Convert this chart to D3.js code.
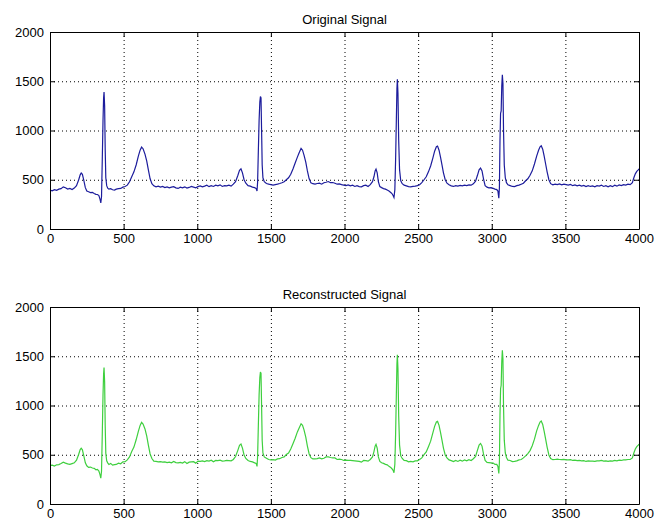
<!DOCTYPE html>
<html>
<head>
<meta charset="utf-8">
<script src="https://cdnjs.cloudflare.com/ajax/libs/d3/7.8.5/d3.min.js"></script>
<style>
  body { margin: 0; background: #fff; }
  text { font-family: Arial, "Liberation Sans", sans-serif; fill: #000; }
</style>
</head>
<body>
<div id="chart"></div>
<script>
// sample index / amplitude pairs
let original = [[0,395],[15,388],[30,400],[45,392],[60,405],[75,410],[90,428],[105,418],[120,405],[135,412],[150,400],[165,415],[180,440],[195,500],[205,550],[212,568],[220,555],[230,490],[240,420],[250,385],[262,378],[275,370],[288,372],[300,360],[312,352],[322,350],[332,340],[340,300],[345,265],[350,330],[355,700],[360,1100],[364,1330],[367,1390],[371,1250],[375,800],[379,520],[385,440],[392,415],[400,405],[412,410],[425,398],[438,395],[450,405],[465,410],[480,412],[495,425],[510,432],[525,445],[540,480],[555,530],[570,580],[585,650],[600,740],[612,800],[622,832],[632,815],[645,760],[657,690],[668,600],[680,510],[692,460],[705,438],[720,428],[735,435],[750,425],[765,432],[780,420],[795,428],[810,418],[825,425],[840,430],[855,418],[870,412],[885,425],[900,418],[915,428],[930,415],[945,422],[960,432],[975,425],[990,418],[1005,430],[1020,438],[1035,428],[1050,435],[1065,445],[1080,430],[1095,440],[1110,432],[1125,445],[1140,438],[1155,448],[1170,432],[1185,440],[1200,438],[1215,445],[1230,435],[1245,455],[1260,480],[1275,540],[1287,595],[1297,610],[1307,570],[1318,500],[1330,465],[1345,440],[1360,435],[1375,425],[1390,420],[1400,410],[1406,385],[1410,480],[1415,800],[1420,1100],[1425,1290],[1429,1345],[1433,1330],[1437,1000],[1441,650],[1446,520],[1455,480],[1470,462],[1485,455],[1500,450],[1515,445],[1530,450],[1545,455],[1560,462],[1575,470],[1590,480],[1605,500],[1620,520],[1635,555],[1650,610],[1665,670],[1680,730],[1692,775],[1705,818],[1715,800],[1725,750],[1737,680],[1748,590],[1760,510],[1772,468],[1785,460],[1800,455],[1815,462],[1830,465],[1845,455],[1860,470],[1875,475],[1890,482],[1905,470],[1920,472],[1935,465],[1950,455],[1965,458],[1980,450],[1995,445],[2010,440],[2025,448],[2040,438],[2055,445],[2070,432],[2085,440],[2100,430],[2115,428],[2130,440],[2145,445],[2160,432],[2175,450],[2190,480],[2200,530],[2208,590],[2214,608],[2222,570],[2230,480],[2240,430],[2252,420],[2265,410],[2278,405],[2290,395],[2302,385],[2314,370],[2322,360],[2330,340],[2336,320],[2342,400],[2347,700],[2352,1100],[2356,1420],[2359,1520],[2363,1380],[2368,900],[2374,600],[2382,490],[2392,460],[2405,445],[2420,438],[2435,430],[2450,428],[2465,432],[2480,435],[2495,440],[2510,450],[2525,470],[2540,500],[2555,530],[2570,580],[2585,640],[2600,720],[2612,790],[2624,835],[2632,842],[2642,800],[2652,730],[2662,650],[2672,570],[2684,500],[2696,465],[2710,450],[2725,438],[2740,432],[2755,440],[2770,435],[2785,442],[2800,438],[2815,445],[2830,440],[2845,448],[2860,445],[2875,458],[2890,485],[2902,540],[2914,600],[2924,618],[2934,590],[2944,510],[2955,440],[2968,425],[2980,418],[2995,420],[3010,412],[3022,405],[3034,400],[3042,385],[3048,312],[3052,420],[3056,900],[3060,1175],[3064,1200],[3068,1450],[3072,1565],[3076,1480],[3080,1000],[3085,650],[3092,520],[3100,470],[3110,448],[3125,440],[3140,432],[3155,430],[3170,440],[3185,445],[3200,455],[3215,465],[3230,490],[3245,510],[3260,545],[3275,590],[3290,660],[3305,740],[3318,800],[3328,835],[3336,845],[3346,810],[3356,740],[3366,660],[3376,580],[3388,500],[3400,460],[3415,448],[3430,455],[3445,450],[3460,458],[3475,448],[3490,455],[3505,450],[3520,445],[3535,452],[3550,440],[3565,448],[3580,438],[3595,445],[3610,435],[3625,442],[3640,430],[3655,440],[3670,432],[3685,438],[3700,428],[3715,440],[3730,435],[3745,445],[3760,432],[3775,440],[3790,428],[3805,440],[3820,430],[3835,445],[3850,435],[3865,448],[3880,440],[3895,450],[3910,445],[3925,455],[3940,450],[3955,470],[3965,520],[3975,560],[3985,585],[3995,600],[4000,610]];

let reconstructed = [[0,392],[15,395],[30,385],[45,398],[60,400],[75,412],[90,425],[105,415],[120,408],[135,402],[150,410],[165,418],[180,445],[195,505],[205,552],[212,566],[220,550],[230,485],[240,418],[250,388],[262,372],[275,375],[288,365],[300,362],[312,348],[322,352],[332,335],[340,295],[345,262],[350,335],[355,705],[360,1105],[364,1320],[367,1385],[371,1240],[375,790],[379,515],[385,438],[392,418],[400,402],[412,412],[425,395],[438,400],[450,402],[465,415],[480,408],[495,428],[510,430],[525,448],[540,478],[555,532],[570,578],[585,652],[600,738],[612,798],[622,830],[632,812],[645,762],[657,688],[668,598],[680,508],[692,462],[705,435],[720,432],[735,428],[750,430],[765,425],[780,428],[795,420],[810,425],[825,418],[840,432],[855,420],[870,418],[885,422],[900,415],[915,430],[930,412],[945,425],[960,428],[975,430],[990,415],[1005,435],[1020,432],[1035,438],[1050,430],[1065,440],[1080,435],[1095,445],[1110,428],[1125,442],[1140,440],[1155,445],[1170,435],[1185,438],[1200,442],[1215,440],[1230,438],[1245,452],[1260,482],[1275,542],[1287,596],[1297,608],[1307,568],[1318,498],[1330,462],[1345,442],[1360,432],[1375,428],[1390,418],[1400,412],[1406,382],[1410,485],[1415,805],[1420,1105],[1425,1285],[1429,1340],[1433,1325],[1437,995],[1441,645],[1446,518],[1455,478],[1470,465],[1485,452],[1500,448],[1515,450],[1530,446],[1545,458],[1560,460],[1575,472],[1590,478],[1605,502],[1620,518],[1635,558],[1650,612],[1665,668],[1680,732],[1692,772],[1705,815],[1715,798],[1725,752],[1737,678],[1748,588],[1760,508],[1772,470],[1785,458],[1800,458],[1815,460],[1830,468],[1845,458],[1860,465],[1875,478],[1890,478],[1905,472],[1920,468],[1935,468],[1950,452],[1965,455],[1980,452],[1995,442],[2010,445],[2025,442],[2040,442],[2055,440],[2070,438],[2085,435],[2100,432],[2115,425],[2130,442],[2145,440],[2160,435],[2175,452],[2190,478],[2200,532],[2208,588],[2214,606],[2222,568],[2230,478],[2240,432],[2252,418],[2265,412],[2278,402],[2290,398],[2302,382],[2314,372],[2322,358],[2330,342],[2336,318],[2342,405],[2347,705],[2352,1105],[2356,1415],[2359,1515],[2363,1375],[2368,895],[2374,598],[2382,488],[2392,462],[2405,442],[2420,440],[2435,428],[2450,432],[2465,428],[2480,438],[2495,438],[2510,452],[2525,468],[2540,502],[2555,528],[2570,582],[2585,638],[2600,722],[2612,788],[2624,832],[2632,838],[2642,798],[2652,728],[2662,648],[2672,568],[2684,498],[2696,468],[2710,448],[2725,440],[2740,430],[2755,442],[2770,432],[2785,445],[2800,435],[2815,448],[2830,438],[2845,450],[2860,442],[2875,460],[2890,482],[2902,542],[2914,598],[2924,615],[2934,588],[2944,508],[2955,442],[2968,422],[2980,420],[2995,418],[3010,415],[3022,402],[3034,402],[3042,382],[3048,310],[3052,425],[3056,905],[3060,1170],[3064,1205],[3068,1445],[3072,1560],[3076,1475],[3080,995],[3085,648],[3092,518],[3100,472],[3110,445],[3125,442],[3140,430],[3155,432],[3170,438],[3185,448],[3200,452],[3215,468],[3230,488],[3245,512],[3260,542],[3275,592],[3290,658],[3305,742],[3318,798],[3328,832],[3336,842],[3346,808],[3356,738],[3366,658],[3376,578],[3388,498],[3400,462],[3415,450],[3430,452],[3445,455],[3460,452],[3475,450],[3490,452],[3505,448],[3520,448],[3535,450],[3550,442],[3565,445],[3580,440],[3595,442],[3610,438],[3625,440],[3640,432],[3655,438],[3670,435],[3685,435],[3700,432],[3715,438],[3730,438],[3745,442],[3760,435],[3775,438],[3790,432],[3805,438],[3820,435],[3835,442],[3850,438],[3865,445],[3880,442],[3895,448],[3910,448],[3925,452],[3940,452],[3955,468],[3965,518],[3975,558],[3985,582],[3995,598],[4000,608]];

let xTicks = [0, 500, 1000, 1500, 2000, 2500, 3000, 3500, 4000];
let yTicks = [0, 500, 1000, 1500, 2000];

let panels = [
  {title: 'Original Signal', data: original, color: '#1c1c9c', top: 32},
  {title: 'Reconstructed Signal', data: reconstructed, color: '#3ecf3e', top: 307}
];

let margin = {left: 50, right: 23},
    width = 662 - margin.left - margin.right,
    height = 197;

let svg = d3.select('#chart')
            .append('svg')
            .attr('width', 662)
            .attr('height', 523);

svg.append('rect').attr('width', 662).attr('height', 523).attr('fill', '#fff');

let x = d3.scaleLinear().domain([0, 4000]).range([0, width]);
let y = d3.scaleLinear().domain([0, 2000]).range([height, 0]);
let fmt = d3.format('d');

panels.forEach(function(p) {
  let g = svg.append('g')
             .attr('transform', 'translate(' + margin.left + ',' + p.top + ')');

  // dotted grid
  g.append('g')
   .attr('class', 'grid')
   .attr('transform', 'translate(0,' + height + ')')
   .call(d3.axisBottom(x).tickValues(xTicks).tickSize(-height).tickFormat(''));
  g.append('g')
   .attr('class', 'grid')
   .call(d3.axisLeft(y).tickValues(yTicks).tickSize(-width).tickFormat(''));
  g.selectAll('.grid .domain').remove();
  g.selectAll('.grid line')
   .attr('stroke', '#000')
   .attr('stroke-dasharray', '1,3');

  // signal
  let line = d3.line()
               .x(function(d) { return x(d[0]); })
               .y(function(d) { return y(d[1]); });
  g.append('path')
   .datum(p.data)
   .attr('fill', 'none')
   .attr('stroke', p.color)
   .attr('stroke-width', 1.2)
   .attr('d', line);

  // box and inward ticks on all sides
  let ax = [
    [d3.axisBottom(x).tickValues(xTicks).tickSize(-5).tickPadding(5).tickFormat(fmt), 'translate(0,' + height + ')'],
    [d3.axisTop(x).tickValues(xTicks).tickSize(-5).tickFormat(''), null],
    [d3.axisLeft(y).tickValues(yTicks).tickSize(-5).tickPadding(6).tickFormat(fmt), null],
    [d3.axisRight(y).tickValues(yTicks).tickSize(-5).tickFormat(''), 'translate(' + width + ',0)']
  ];
  ax.forEach(function(a) {
    let ag = g.append('g').call(a[0].tickSizeOuter(0));
    if (a[1]) ag.attr('transform', a[1]);
    ag.select('.domain').attr('stroke', '#000');
    ag.selectAll('line').attr('stroke', '#000');
    ag.selectAll('text').style('font-size', '13px').attr('fill', '#000');
  });

  g.append('text')
   .attr('x', width / 2)
   .attr('y', -8)
   .attr('text-anchor', 'middle')
   .style('font-size', '13px')
   .text(p.title);
});
</script>
</body>
</html>
